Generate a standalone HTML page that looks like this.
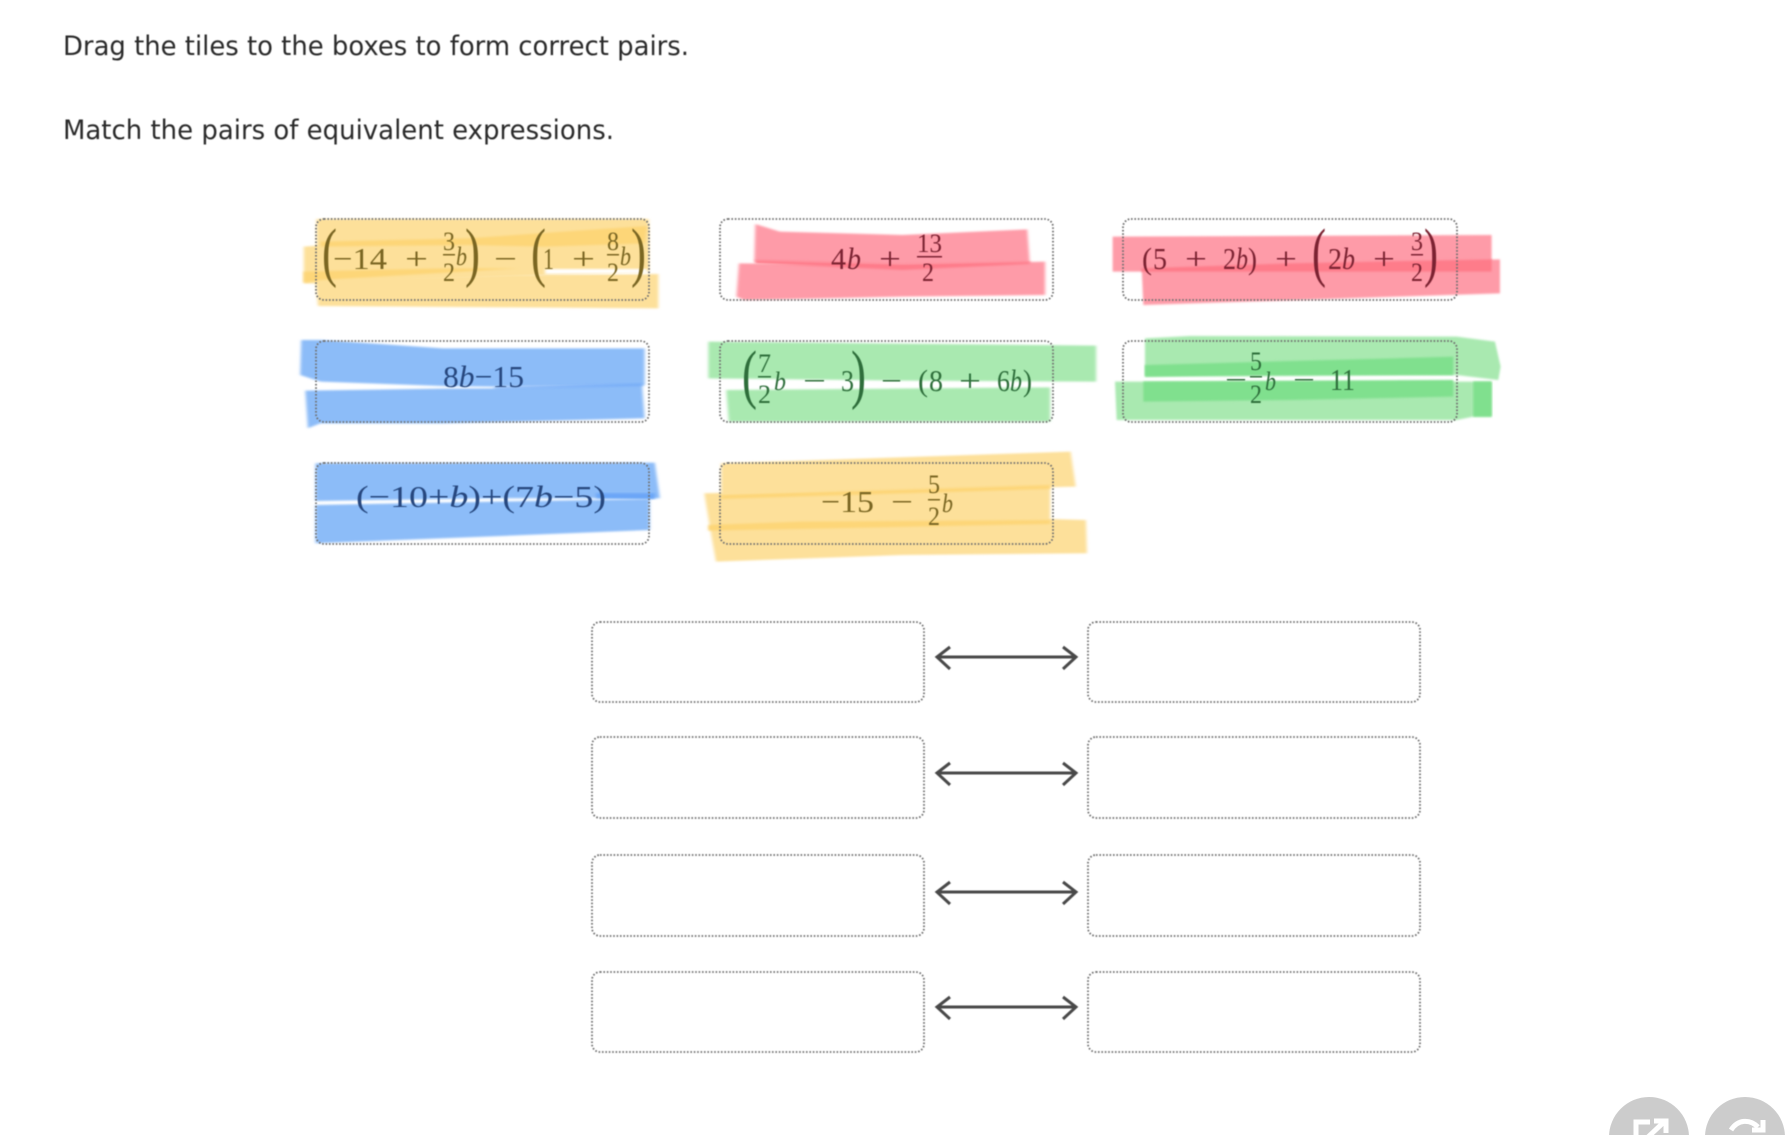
<!DOCTYPE html>
<html><head><meta charset="utf-8"><style>
html,body{margin:0;padding:0;background:#fff;width:1788px;height:1135px;overflow:hidden}
svg{display:block}
.p{font-family:"DejaVu Sans","Liberation Sans",sans-serif;fill:#2b2b2b}
.m text{font-family:"Liberation Serif",serif}
.m{font-size:31px}
.f{font-size:26px}
.i{font-size:26px;font-style:italic}
.B{font-size:66px}
.hl polygon{filter:url(#s)}
</style></head><body>
<svg width="1788" height="1135" viewBox="0 0 1788 1135" xmlns="http://www.w3.org/2000/svg">
<defs><filter id="s" x="-5%" y="-20%" width="110%" height="140%"><feGaussianBlur stdDeviation="3"/></filter>
<filter id="t" x="-5%" y="-5%" width="110%" height="110%"><feGaussianBlur stdDeviation="0.5"/></filter></defs>
<text class="p" x="63" y="55" font-size="27" textLength="626" lengthAdjust="spacingAndGlyphs" filter="url(#t)">Drag the tiles to the boxes to form correct pairs.</text>
<text class="p" x="63" y="139" font-size="27" textLength="551" lengthAdjust="spacingAndGlyphs" filter="url(#t)">Match the pairs of equivalent expressions.</text>

<g class="hl" transform="translate(290,200) scale(0.5102,0.3333)">
<g fill="#fde09a">
<polygon points="52,57 703,57 703,215 450,205 52,240"/>
<polygon points="27,140 350,105 700,78 700,215 52,250 27,250"/>
<polygon points="50,240 440,225 722,222 722,325 55,318"/>
</g>
<g fill="#fdd678">
<polygon points="60,125 350,115 600,88 700,78 695,130 500,140 350,135 60,140"/>
<polygon points="27,215 300,205 450,205 60,240 27,248"/>
</g>
<polygon points="500,207 700,207 700,219 500,222" fill="#fff"/>
<!-- red -->
<g fill="#fe9ba8">
<polygon points="912,72 960,95 1200,105 1445,88 1450,190 1200,195 910,185"/>
<polygon points="880,190 1200,195 1480,185 1480,285 1200,290 890,300 875,290"/>
</g>
<polygon points="912,180 1200,192 1450,185 1450,192 1200,210 912,190" fill="#fe7b8a"/>
<!-- blue 1 -->
<g fill="#8cbcf8">
<polygon points="22,420 60,420 300,445 695,445 695,556 400,560 300,558 60,545 20,525"/>
<polygon points="30,572 300,566 400,565 690,552 695,655 300,670 60,670 35,685"/>
</g>
<polygon points="400,562 690,550 690,558 400,567" fill="#74acf7"/>
<!-- green 1 -->
<g fill="#a9e9b0">
<polygon points="820,425 1580,437 1580,545 1200,542 820,535"/>
<polygon points="855,570 1490,562 1490,665 860,665"/>
</g>
<!-- blue 2 -->
<g fill="#8cbcf8">
<polygon points="50,790 715,788 725,895 400,895 50,903"/>
<polygon points="50,915 400,905 705,897 705,990 300,1015 50,1030"/>
</g>
<polygon points="600,880 715,880 715,897 600,895" fill="#6aa6f7"/>
<!-- yellow 2 -->
<g fill="#fde09a">
<polygon points="845,790 1530,755 1540,860 845,885"/>
<polygon points="812,880 1490,860 1490,957 1560,960 1562,1060 1200,1065 835,1085 825,1000"/>
</g>
<g fill="#fdd678">
<polygon points="845,885 1490,855 1490,867 845,897"/>
<polygon points="820,975 1000,965 1490,960 1490,972 1000,987 820,992"/>
</g>
</g>

<g class="hl" transform="translate(1090,200) scale(0.3333)">
<polygon points="68,110 1205,105 1205,215 68,215" fill="#fe9ba8"/>
<polygon points="155,200 600,190 1230,178 1230,280 160,315" fill="#fe9ba8"/>
<polygon points="155,205 600,190 1205,178 1205,215 155,215" fill="#fe7b8a"/>
<g fill="#a9e9b0">
<polygon points="165,415 300,408 1100,410 1215,425 1232,500 1225,540 1100,525 500,520 165,530"/>
<polygon points="75,545 600,545 1205,545 1205,650 1150,650 1100,660 80,660"/>
</g>
<g fill="#80e08e">
<polygon points="165,495 1090,470 1090,525 165,530"/>
<polygon points="160,545 1090,540 1090,590 600,600 160,605"/>
<polygon points="1150,545 1205,545 1205,650 1150,650"/>
</g>
</g>

<g fill="none" stroke="#6f6f6f" stroke-width="1.8" stroke-dasharray="1.6 1.8" filter="url(#t)">
<rect x="316" y="219" width="333" height="81" rx="8"/>
<rect x="720" y="219" width="333" height="81" rx="8"/>
<rect x="1123" y="219" width="334" height="81" rx="8"/>
<rect x="316" y="341" width="333" height="81" rx="8"/>
<rect x="720" y="341" width="333" height="81" rx="8"/>
<rect x="1123" y="341" width="334" height="81" rx="8"/>
<rect x="316" y="463" width="333" height="81" rx="8"/>
<rect x="720" y="463" width="333" height="81" rx="8"/>
<rect x="592" y="622" width="332" height="80" rx="8"/>
<rect x="1088" y="622" width="332" height="80" rx="8"/>
<rect x="592" y="737" width="332" height="81" rx="8"/>
<rect x="1088" y="737" width="332" height="81" rx="8"/>
<rect x="592" y="855" width="332" height="81" rx="8"/>
<rect x="1088" y="855" width="332" height="81" rx="8"/>
<rect x="592" y="972" width="332" height="80" rx="8"/>
<rect x="1088" y="972" width="332" height="80" rx="8"/>
</g>

<g fill="none" stroke="#4a4a4a" stroke-width="3" filter="url(#t)">
<path d="M938 657H1075M950 647L937 657L950 669M1063 647L1076 657L1063 669"/>
<path d="M938 773H1075M950 763L937 773L950 785M1063 763L1076 773L1063 785"/>
<path d="M938 892H1075M950 882L937 892L950 904M1063 882L1076 892L1063 904"/>
<path d="M938 1007H1075M950 997L937 1007L950 1019M1063 997L1076 1007L1063 1019"/>
</g>

<g class="m" filter="url(#t)">
<g fill="#7a6624" stroke="none">
<text class="B" x="322" y="274" textLength="15" lengthAdjust="spacingAndGlyphs">(</text>
<text x="333" y="269" textLength="54" lengthAdjust="spacingAndGlyphs">−14</text>
<text x="405" y="269" textLength="23" lengthAdjust="spacingAndGlyphs">+</text>
<text class="f" x="443" y="250" textLength="12" lengthAdjust="spacingAndGlyphs">3</text>
<rect x="443" y="254" width="12" height="1.5"/>
<text class="f" x="443" y="281" textLength="12" lengthAdjust="spacingAndGlyphs">2</text>
<text class="i" x="456" y="265" textLength="11" lengthAdjust="spacingAndGlyphs">b</text>
<text class="B" x="465" y="274" textLength="15" lengthAdjust="spacingAndGlyphs">)</text>
<text x="494" y="269" textLength="23" lengthAdjust="spacingAndGlyphs">−</text>
<text class="B" x="531" y="274" textLength="15" lengthAdjust="spacingAndGlyphs">(</text>
<text x="543" y="269" textLength="11" lengthAdjust="spacingAndGlyphs">1</text>
<text x="572" y="269" textLength="23" lengthAdjust="spacingAndGlyphs">+</text>
<text class="f" x="607" y="250" textLength="12" lengthAdjust="spacingAndGlyphs">8</text>
<rect x="607" y="254" width="12" height="1.5"/>
<text class="f" x="607" y="281" textLength="12" lengthAdjust="spacingAndGlyphs">2</text>
<text class="i" x="620" y="265" textLength="11" lengthAdjust="spacingAndGlyphs">b</text>
<text class="B" x="631" y="274" textLength="15" lengthAdjust="spacingAndGlyphs">)</text>
</g>
<g fill="#7c2433">
<text x="831" y="269" textLength="15" lengthAdjust="spacingAndGlyphs">4</text>
<text x="847" y="269" textLength="14" lengthAdjust="spacingAndGlyphs" font-style="italic">b</text>
<text x="879" y="269" textLength="22" lengthAdjust="spacingAndGlyphs">+</text>
<text class="f" x="917" y="252" textLength="25" lengthAdjust="spacingAndGlyphs">13</text>
<rect x="917" y="256" width="25" height="1.5"/>
<text class="f" x="922" y="281" textLength="12" lengthAdjust="spacingAndGlyphs">2</text>
</g>
<g fill="#7c2433">
<text x="1142" y="269" textLength="10" lengthAdjust="spacingAndGlyphs">(</text>
<text x="1153" y="269" textLength="14" lengthAdjust="spacingAndGlyphs">5</text>
<text x="1185" y="269" textLength="22" lengthAdjust="spacingAndGlyphs">+</text>
<text x="1223" y="269" textLength="13" lengthAdjust="spacingAndGlyphs">2</text>
<text x="1236" y="269" textLength="12" lengthAdjust="spacingAndGlyphs" font-style="italic">b</text>
<text x="1248" y="269" textLength="9" lengthAdjust="spacingAndGlyphs">)</text>
<text x="1275" y="269" textLength="22" lengthAdjust="spacingAndGlyphs">+</text>
<text class="B" x="1312" y="274" textLength="14" lengthAdjust="spacingAndGlyphs">(</text>
<text x="1328" y="269" textLength="14" lengthAdjust="spacingAndGlyphs">2</text>
<text x="1342" y="269" textLength="13" lengthAdjust="spacingAndGlyphs" font-style="italic">b</text>
<text x="1373" y="269" textLength="22" lengthAdjust="spacingAndGlyphs">+</text>
<text class="f" x="1411" y="250" textLength="12" lengthAdjust="spacingAndGlyphs">3</text>
<rect x="1411" y="254" width="12" height="1.5"/>
<text class="f" x="1411" y="281" textLength="12" lengthAdjust="spacingAndGlyphs">2</text>
<text class="B" x="1424" y="274" textLength="14" lengthAdjust="spacingAndGlyphs">)</text>
</g>
<text x="443" y="387" textLength="81" lengthAdjust="spacingAndGlyphs" fill="#25477e">8<tspan font-style="italic">b</tspan>−15</text>
<g fill="#2d6e3b">
<text class="B" x="742" y="396" textLength="15" lengthAdjust="spacingAndGlyphs">(</text>
<text class="f" x="758" y="372" textLength="13" lengthAdjust="spacingAndGlyphs">7</text>
<rect x="758" y="376" width="13" height="1.5"/>
<text class="f" x="758" y="403" textLength="13" lengthAdjust="spacingAndGlyphs">2</text>
<text class="i" x="774" y="390" textLength="12" lengthAdjust="spacingAndGlyphs">b</text>
<text x="803" y="391" textLength="23" lengthAdjust="spacingAndGlyphs">−</text>
<text x="841" y="391" textLength="13" lengthAdjust="spacingAndGlyphs">3</text>
<text class="B" x="851" y="396" textLength="15" lengthAdjust="spacingAndGlyphs">)</text>
<text x="881" y="391" textLength="21" lengthAdjust="spacingAndGlyphs">−</text>
<text x="918" y="391" textLength="10" lengthAdjust="spacingAndGlyphs">(</text>
<text x="929" y="391" textLength="14" lengthAdjust="spacingAndGlyphs">8</text>
<text x="959" y="391" textLength="22" lengthAdjust="spacingAndGlyphs">+</text>
<text x="997" y="391" textLength="13" lengthAdjust="spacingAndGlyphs">6</text>
<text x="1010" y="391" textLength="12" lengthAdjust="spacingAndGlyphs" font-style="italic">b</text>
<text x="1023" y="391" textLength="9" lengthAdjust="spacingAndGlyphs">)</text>
<text x="1225" y="390" textLength="22" lengthAdjust="spacingAndGlyphs">−</text>
<text class="f" x="1250" y="370" textLength="12" lengthAdjust="spacingAndGlyphs">5</text>
<rect x="1250" y="376" width="12" height="1.5"/>
<text class="f" x="1250" y="403" textLength="12" lengthAdjust="spacingAndGlyphs">2</text>
<text class="i" x="1265" y="390" textLength="11" lengthAdjust="spacingAndGlyphs">b</text>
<text x="1293" y="390" textLength="22" lengthAdjust="spacingAndGlyphs">−</text>
<text x="1330" y="390" textLength="25" lengthAdjust="spacingAndGlyphs">11</text>
</g>
<text x="356" y="507" textLength="250" lengthAdjust="spacingAndGlyphs" fill="#25477e">(−10+<tspan font-style="italic">b</tspan>)+(7<tspan font-style="italic">b</tspan>−5)</text>
<g fill="#7a6624">
<text x="821" y="512" textLength="53" lengthAdjust="spacingAndGlyphs">−15</text>
<text x="891" y="512" textLength="22" lengthAdjust="spacingAndGlyphs">−</text>
<text class="f" x="928" y="493" textLength="12" lengthAdjust="spacingAndGlyphs">5</text>
<rect x="928" y="499" width="12" height="1.5"/>
<text class="f" x="928" y="525" textLength="12" lengthAdjust="spacingAndGlyphs">2</text>
<text class="i" x="942" y="512" textLength="11" lengthAdjust="spacingAndGlyphs">b</text>
</g>
</g>

<circle cx="1649" cy="1137" r="40" fill="#cccccc"/>
<circle cx="1745" cy="1137" r="40" fill="#cccccc"/>
<g fill="none" stroke="#fff" stroke-width="5">
<path d="M1636 1140V1122H1650"/>
<path d="M1648 1137L1664 1122M1654 1121H1666V1133"/>
<path d="M1731 1130C1738 1119 1750 1119 1758 1127"/>
<path d="M1763 1120V1130H1752"/>
</g>
</svg>
</body></html>
